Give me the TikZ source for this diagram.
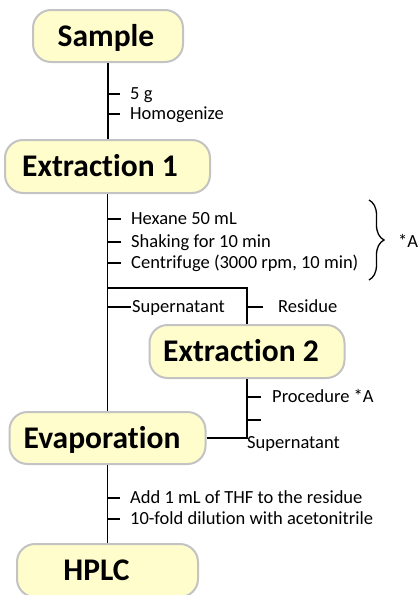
\documentclass[tikz,border=0pt]{standalone}
\usepackage{fontspec}
\setmainfont[Ligatures=NoCommon]{Carlito}
\usetikzlibrary{decorations.pathreplacing}
\definecolor{boxfill}{RGB}{255,253,204}
\definecolor{boxline}{RGB}{195,195,195}
\begin{document}
\begin{tikzpicture}[x=1pt,y=-1pt,
 stepbox/.style={draw=boxline, line width=2pt, fill=boxfill, rounded corners=18pt, inner sep=0pt,
   font=\fontsize{31.5}{36}\selectfont\bfseries, text height=20.3pt, text depth=0pt},
 note/.style={anchor=west, inner sep=0pt, font=\fontsize{18.5}{21}\selectfont, text height=11.9pt, text depth=0pt},
 conn/.style={line width=1.6pt, black}]
\clip (0,0) rectangle (419,595);
\fill[white] (0,0) rectangle (419,595);
% boxes
\node[stepbox, minimum width=150pt, minimum height=52pt] (sample) at (108,36) {Sample\hspace*{4pt}};
\node[stepbox, minimum width=205pt, minimum height=53pt] (ext1) at (107.5,166.5) {Extraction 1\hspace*{15pt}};
\node[stepbox, minimum width=195pt, minimum height=53pt] (ext2) at (247,351.5) {Extraction 2\hspace*{12pt}};
\node[stepbox, minimum width=196pt, minimum height=52pt] (evap) at (107.5,438) {Evaporation\hspace*{11pt}};
\node[stepbox, minimum width=181pt, minimum height=53pt] (hplc) at (107.5,570.5) {HPLC\hspace*{22pt}};
% notes
\node[note] (n1) at (130,94) {5 g};
\node[note] (n2) at (130,114) {Homogenize};
\node[note] (n3) at (131,219) {Hexane 50 mL};
\node[note] (n4) at (131,242) {Shaking for 10 min};
\node[note] (n5) at (131,263) {Centrifuge (3000 rpm, 10 min)};
\node[note] (na) at (398,242) {*A};
\node[note] (sup1) at (132,307) {Supernatant};
\node[note] (res) at (278,307) {Residue};
\node[note] (proc) at (272,397) {Procedure *A};
\node[note] (sup2) at (247,443) {Supernatant};
\node[note] (n6) at (130,498) {Add 1 mL of THF to the residue};
\node[note] (n7) at (130,519) {10-fold dilution with acetonitrile};
% connectors
\draw[conn] (sample.south) -- (sample.south |- ext1.north);
\draw[conn] (n1.west -| sample.south) -- ++(12,0);
\draw[conn] (n2.west -| sample.south) -- ++(12,0);
\draw[conn] (ext1.south) -- (evap.north);
\draw[conn] (n3.west -| ext1.south) -- ++(13,0);
\draw[conn] (n4.west -| ext1.south) -- ++(13,0);
\draw[conn] (n5.west -| ext1.south) -- ++(13,0);
\coordinate (b1) at (369,200);
\coordinate (b2) at (369,280);
\draw[line width=1.3pt, decorate, decoration={brace, amplitude=15pt}] (b1) -- (b2);
\coordinate (j1) at (107.5,288);
\draw[conn] (j1) -| (ext2.north);
\draw[conn] (sup1.west -| j1) -- ([xshift=-1pt]sup1.west);
\draw[conn] (res.west -| ext2.north) -- ++(16,0);
\coordinate (j2) at (ext2.south |- evap.east);
\draw[conn] (ext2.south) -- (j2) -- (evap.east);
\draw[conn] (proc.west -| ext2.south) -- ++(14,0);
\coordinate (t2) at (247,420);
\draw[conn] (t2) -- ++(14,0);
\draw[conn] (evap.south) -- (hplc.north);
\draw[conn] (n6.west -| evap.south) -- ++(12,0);
\draw[conn] (n7.west -| evap.south) -- ++(12,0);
\end{tikzpicture}
\end{document}
